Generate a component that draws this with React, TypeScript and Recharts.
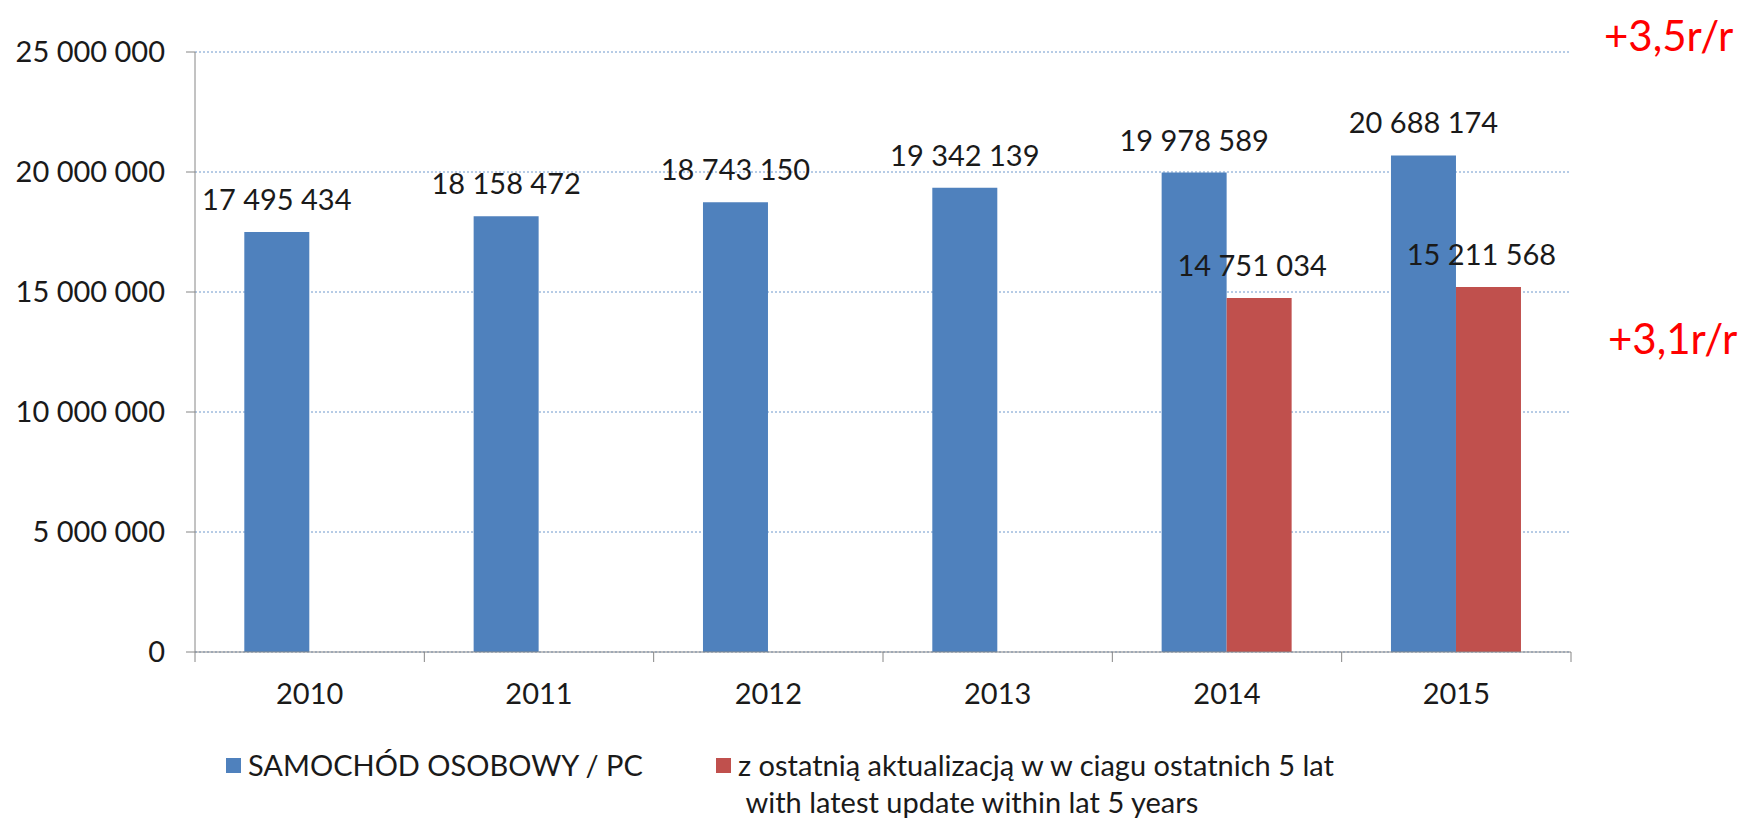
import { BarChart, Bar, XAxis, YAxis, CartesianGrid, Legend, LabelList } from 'recharts';

const years = ['2010', '2011', '2012', '2013', '2014', '2015'];
const passengerCars = [17495434, 18158472, 18743150, 19342139, 19978589, 20688174];
const updatedWithin5y = [null, null, null, null, 14751034, 15211568];
const yTicks = [0, 5000000, 10000000, 15000000, 20000000, 25000000];
const seriesNames = [
  'SAMOCHÓD OSOBOWY / PC',
  'z ostatnią aktualizacją w w ciagu ostatnich 5 lat\n with latest update within lat 5 years',
];
const growthNotes = ['+3,5r/r', '+3,1r/r'];

const data = years.map((year, i) => ({
  year,
  pc: passengerCars[i],
  updated: updatedWithin5y[i],
}));

const FONT = 'Lato, "Open Sans", sans-serif';
const TEXT = '#1a1a1a';
const AXIS = '#868686';

const fmt = (v: any) =>
  v === null || v === undefined ? '' : String(v).replace(/\B(?=(\d{3})+(?!\d))/g, ' ');

function YearTick(props: any) {
  const { x, y, payload, index, visibleTicksCount, width } = props;
  const half = payload?.offset || width / visibleTicksCount / 2;
  return (
    <g>
      <line x1={x - half} x2={x - half} y1={y} y2={y + 10} stroke={AXIS} />
      {index === visibleTicksCount - 1 && (
        <line x1={x + half} x2={x + half} y1={y} y2={y + 10} stroke={AXIS} />
      )}
      <text x={x} y={y + 52} textAnchor="middle" fill={TEXT} fontSize={29} fontFamily={FONT}>
        {payload.value}
      </text>
    </g>
  );
}

// value above the bar, one line, no wrapping
const barLabel = (shift: number) => (props: any) => {
  const { x, y, width, value } = props;
  if (value === null || value === undefined) return null;
  return (
    <text
      x={Number(x) + Number(width) / 2 + shift}
      y={Number(y) - 22}
      textAnchor="middle"
      fill={TEXT}
      fontSize={29}
      fontFamily={FONT}
    >
      {fmt(value)}
    </text>
  );
};

function LegendContent({ payload }: any) {
  return (
    <div style={{ display: 'flex', alignItems: 'flex-start', fontFamily: FONT, fontSize: 29, color: TEXT }}>
      {(payload || []).map((p: any, i: number) => (
        <div key={i} style={{ display: 'flex', alignItems: 'flex-start', width: i === 0 ? 490 : 'auto' }}>
          <span style={{ width: 15, height: 15, background: p.color, marginTop: 12, marginRight: 7, flex: 'none' }} />
          <span style={{ whiteSpace: 'pre-wrap', lineHeight: '37px' }}>{p.value}</span>
        </div>
      ))}
    </div>
  );
}

export default function App() {
  return (
    <div style={{ position: 'absolute', left: 0, top: 0, width: 1747, height: 821, background: '#fff' }}>
      <BarChart
        width={1747}
        height={821}
        data={data}
        margin={{ top: 52, right: 176, bottom: 109, left: 0 }}
        barCategoryGap="21.5%"
        barGap={0}
      >
        <CartesianGrid vertical={false} stroke="#6f98cc" strokeDasharray="2 2" />
        <XAxis
          dataKey="year"
          height={60}
          stroke={AXIS}
          tickLine={false}
          tickSize={0}
          tickMargin={0}
          tick={<YearTick />}
          interval={0}
        />
        <YAxis
          width={195}
          domain={[0, 25000000]}
          ticks={yTicks}
          stroke={AXIS}
          tickSize={9}
          tickMargin={21}
          tickFormatter={fmt}
          tick={{ fill: TEXT, fontSize: 29, fontFamily: FONT }}
        />
        <Legend
          layout="horizontal"
          verticalAlign="middle"
          align="center"
          content={<LegendContent />}
          wrapperStyle={{ left: 226, top: 746, width: 1300, height: 80 }}
        />
        <Bar dataKey="pc" name={seriesNames[0]} fill="#4F81BD" isAnimationActive={false}>
          <LabelList dataKey="pc" content={barLabel(0)} />
        </Bar>
        <Bar dataKey="updated" name={seriesNames[1]} fill="#C0504D" isAnimationActive={false}>
          <LabelList dataKey="updated" content={barLabel(-7)} />
        </Bar>
      </BarChart>
      <svg width={1747} height={821} style={{ position: 'absolute', left: 0, top: 0, pointerEvents: 'none' }}>
        <text x={1604} y={51} fill="#ff0000" fontSize={42} fontFamily={FONT}>{growthNotes[0]}</text>
        <text x={1608} y={354} fill="#ff0000" fontSize={42} fontFamily={FONT}>{growthNotes[1]}</text>
      </svg>
    </div>
  );
}
